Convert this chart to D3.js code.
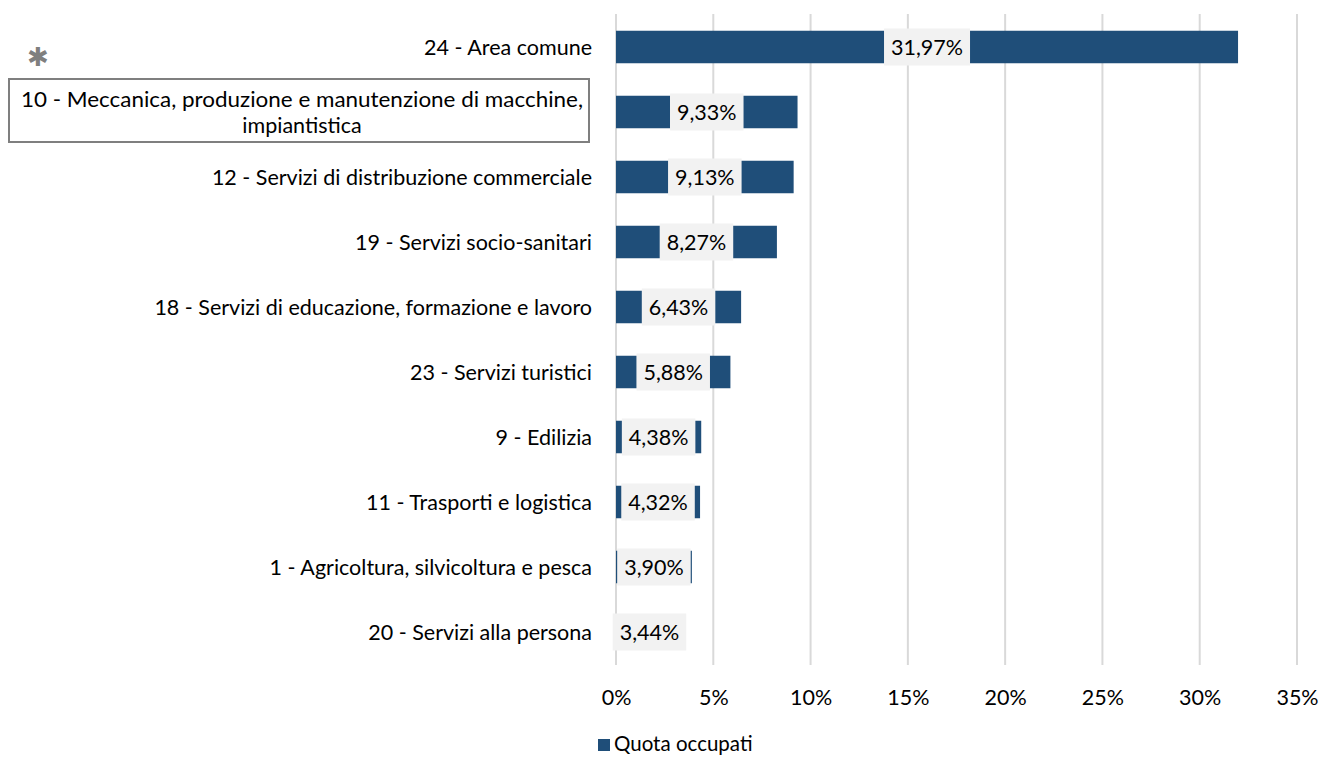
<!DOCTYPE html>
<html><head><meta charset="utf-8">
<script src="https://cdn.jsdelivr.net/npm/d3@7"></script>
<style>body{margin:0;background:#fff;} text{font-family:"Lato","Open Sans",sans-serif;}</style>
</head><body><svg id="c" width="1319" height="759"></svg>
<script>
const categories = [
  "24 - Area comune",
  "10 - Meccanica, produzione e manutenzione di macchine, impiantistica",
  "12 - Servizi di distribuzione commerciale",
  "19 - Servizi socio-sanitari",
  "18 - Servizi di educazione, formazione e lavoro",
  "23 - Servizi turistici",
  "9 - Edilizia",
  "11 - Trasporti e logistica",
  "1 - Agricoltura, silvicoltura e pesca",
  "20 - Servizi alla persona"
];
const values = [31.97, 9.33, 9.13, 8.27, 6.43, 5.88, 4.38, 4.32, 3.90, 3.44];
const valueLabels = ["31,97%","9,33%","9,13%","8,27%","6,43%","5,88%","4,38%","4,32%","3,90%","3,44%"];
const ticks = [0,5,10,15,20,25,30,35];
const seriesName = "Quota occupati";
const FS = 21.5;

const svg = d3.select("#c");
const x = d3.scaleLinear().domain([0,35]).range([616,1297]);
const y = d3.scaleBand().domain(categories).range([14.5,664.5]).paddingInner(0.5).paddingOuter(0.25);
const color = "#1f4e79";

// gridlines
svg.append("g").selectAll("line").data(ticks).join("line")
  .attr("x1",d=>x(d)).attr("x2",d=>x(d)).attr("y1",14).attr("y2",665)
  .attr("stroke","#d9d9d9").attr("stroke-width",2);

// x axis labels
const xa = svg.append("g").attr("transform","translate(0,697)")
  .call(d3.axisBottom(x).tickValues(ticks).tickSize(0).tickFormat(d=>d+"%"));
xa.select(".domain").remove();
xa.selectAll("text").attr("font-size",FS).attr("fill","#000").attr("dy","0.35em").attr("y",0)
  .style("font-family","Lato, 'Open Sans', sans-serif");

// bars
svg.append("g").selectAll("rect").data(values).join("rect")
  .attr("x",x(0)).attr("y",(d,i)=>y(categories[i]))
  .attr("width",d=>x(d)-x(0)).attr("height",y.bandwidth()).attr("fill",color);

// value labels
const lg = svg.append("g").selectAll("g").data(values).join("g")
  .attr("transform",(d,i)=>`translate(${(x(0)+x(d))/2},${y(categories[i])+y.bandwidth()/2})`);
lg.append("rect").attr("x",-38).attr("y",-18.5).attr("width",76).attr("height",37).attr("fill","#f2f2f2");
lg.append("text").text((d,i)=>valueLabels[i]).attr("text-anchor","middle").attr("dy","0.36em")
  .attr("font-size",FS).attr("fill","#000");
lg.each(function(){
  const g=d3.select(this); const w=g.select("text").node().getComputedTextLength();
  g.select("rect").attr("x",-w/2-7).attr("width",w+14);
});

// category labels
const cl = svg.append("g");
categories.forEach((c,i)=>{
  const cy = y(c)+y.bandwidth()/2;
  if(i===1){
    cl.append("rect").attr("x",9).attr("y",79).attr("width",580).attr("height",63)
      .attr("fill","none").attr("stroke","#7f7f7f").attr("stroke-width",2);
    cl.append("text").attr("x",302).attr("y",cy-13).attr("dy","0.35em").attr("text-anchor","middle")
      .attr("font-size",FS).attr("textLength",562).attr("lengthAdjust","spacingAndGlyphs")
      .text("10 - Meccanica, produzione e manutenzione di macchine,");
    cl.append("text").attr("x",302).attr("y",cy+13).attr("dy","0.35em").attr("text-anchor","middle")
      .attr("font-size",FS).text("impiantistica");
  } else {
    cl.append("text").attr("x",592).attr("y",cy).attr("dy","0.35em").attr("text-anchor","end")
      .attr("font-size",FS).text(c);
  }
});

// asterisk
svg.append("text").attr("x",38).attr("y",57).attr("dy","0.35em").attr("text-anchor","middle").attr("font-size",26)
  .attr("fill","#7f7f7f").style("font-family","'DejaVu Sans'").text("\u2731");

// legend
svg.append("rect").attr("x",598).attr("y",739).attr("width",12).attr("height",12).attr("fill",color);
svg.append("text").attr("x",614).attr("y",744).attr("dy","0.35em").attr("font-size",20.5).text(seriesName);
</script></body></html>
